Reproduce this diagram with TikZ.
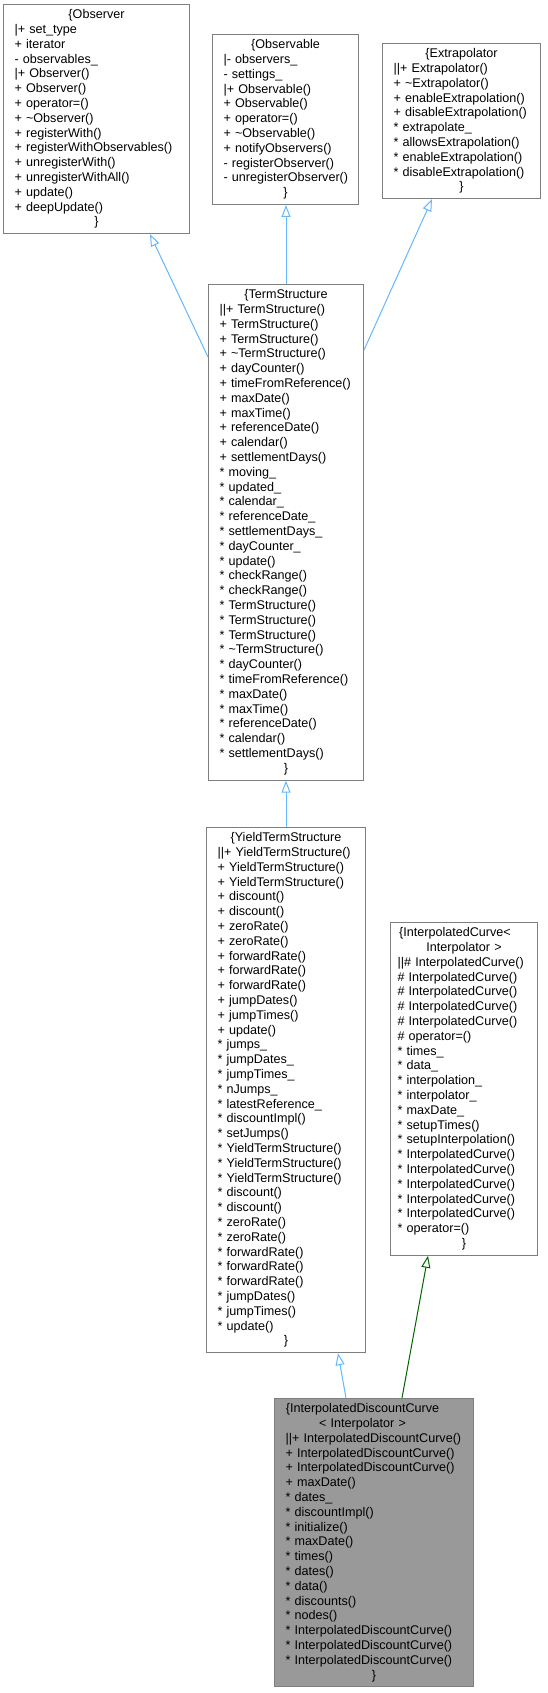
\documentclass[tikz,border=0pt]{standalone}
\usepackage{fontspec}
\setmainfont{Liberation Sans}
\usetikzlibrary{arrows.meta,calc}
\definecolor{boxgray}{HTML}{7F7F7F}
\definecolor{curfill}{HTML}{999999}
\definecolor{inhblue}{HTML}{63B8FF}
\definecolor{inhgreen}{HTML}{006400}
\newcommand{\rowl}[1]{\mbox{#1}\\}
\newcommand{\rowc}[1]{\makebox[\linewidth][c]{#1}\\}
\newcommand{\rowo}[2][23pt]{\makebox[\linewidth][c]{#2\hspace*{#1}}\\}
\newcommand{\rowe}{\makebox[\linewidth][c]{\}}}
\newcommand{\tl}{\textasciitilde}
\tikzset{
  cls/.style={draw=boxgray, line width=1pt, fill=white, rectangle, anchor=north west,
    inner xsep=11pt, inner ysep=0pt, align=left,
    font=\fontsize{12.6}{14.8}\selectfont},
  inh/.style={draw=inhblue, line width=1pt, -{Triangle[open,length=12pt,width=9pt]}},
  inhg/.style={draw=inhgreen, line width=1pt, -{Triangle[open,length=12pt,width=9pt]}}
}
\begin{document}
\begin{tikzpicture}[x=1pt,y=-1pt]
\useasboundingbox[fill=white] (0,0) rectangle (548,1693);

\node[cls, minimum width=186pt, minimum height=229.2pt, text width=164pt] (observer) at (3,4) {%
\rowc{\{Observer}
\rowl{|+ set\_type}
\rowl{+ iterator}
\rowl{- observables\_}
\rowl{|+ Observer()}
\rowl{+ Observer()}
\rowl{+ operator=()}
\rowl{+ \tl Observer()}
\rowl{+ registerWith()}
\rowl{+ registerWithObservables()}
\rowl{+ unregisterWith()}
\rowl{+ unregisterWithAll()}
\rowl{+ update()}
\rowl{+ deepUpdate()}
\rowe};

\node[cls, minimum width=146pt, minimum height=170pt, text width=124pt] (observable) at (212,34) {%
\rowc{\{Observable}
\rowl{|- observers\_}
\rowl{- settings\_}
\rowl{|+ Observable()}
\rowl{+ Observable()}
\rowl{+ operator=()}
\rowl{+ \tl Observable()}
\rowl{+ notifyObservers()}
\rowl{- registerObserver()}
\rowl{- unregisterObserver()}
\rowe};

\node[cls, minimum width=158pt, minimum height=155.2pt, text width=136pt] (extrap) at (382,43) {%
\rowc{\{Extrapolator}
\rowl{||+ Extrapolator()}
\rowl{+ \tl Extrapolator()}
\rowl{+ enableExtrapolation()}
\rowl{+ disableExtrapolation()}
\rowl{* extrapolate\_}
\rowl{* allowsExtrapolation()}
\rowl{* enableExtrapolation()}
\rowl{* disableExtrapolation()}
\rowe};

\node[cls, minimum width=155pt, minimum height=495.6pt, text width=133pt] (termstr) at (208,284) {%
\rowc{\{TermStructure}
\rowl{||+ TermStructure()}
\rowl{+ TermStructure()}
\rowl{+ TermStructure()}
\rowl{+ \tl TermStructure()}
\rowl{+ dayCounter()}
\rowl{+ timeFromReference()}
\rowl{+ maxDate()}
\rowl{+ maxTime()}
\rowl{+ referenceDate()}
\rowl{+ calendar()}
\rowl{+ settlementDays()}
\rowl{* moving\_}
\rowl{* updated\_}
\rowl{* calendar\_}
\rowl{* referenceDate\_}
\rowl{* settlementDays\_}
\rowl{* dayCounter\_}
\rowl{* update()}
\rowl{* checkRange()}
\rowl{* checkRange()}
\rowl{* TermStructure()}
\rowl{* TermStructure()}
\rowl{* TermStructure()}
\rowl{* \tl TermStructure()}
\rowl{* dayCounter()}
\rowl{* timeFromReference()}
\rowl{* maxDate()}
\rowl{* maxTime()}
\rowl{* referenceDate()}
\rowl{* calendar()}
\rowl{* settlementDays()}
\rowe};

\node[cls, minimum width=159pt, minimum height=525.2pt, text width=137pt] (yts) at (206,827) {%
\rowc{\{YieldTermStructure}
\rowl{||+ YieldTermStructure()}
\rowl{+ YieldTermStructure()}
\rowl{+ YieldTermStructure()}
\rowl{+ discount()}
\rowl{+ discount()}
\rowl{+ zeroRate()}
\rowl{+ zeroRate()}
\rowl{+ forwardRate()}
\rowl{+ forwardRate()}
\rowl{+ forwardRate()}
\rowl{+ jumpDates()}
\rowl{+ jumpTimes()}
\rowl{+ update()}
\rowl{* jumps\_}
\rowl{* jumpDates\_}
\rowl{* jumpTimes\_}
\rowl{* nJumps\_}
\rowl{* latestReference\_}
\rowl{* discountImpl()}
\rowl{* setJumps()}
\rowl{* YieldTermStructure()}
\rowl{* YieldTermStructure()}
\rowl{* YieldTermStructure()}
\rowl{* discount()}
\rowl{* discount()}
\rowl{* zeroRate()}
\rowl{* zeroRate()}
\rowl{* forwardRate()}
\rowl{* forwardRate()}
\rowl{* forwardRate()}
\rowl{* jumpDates()}
\rowl{* jumpTimes()}
\rowl{* update()}
\rowe};

\node[cls, inner xsep=7pt, minimum width=147pt, minimum height=332.8pt, text width=133pt] (icurve) at (390,922) {%
\rowo[18pt]{\{InterpolatedCurve<}
\rowc{Interpolator >}
\rowl{||\# InterpolatedCurve()}
\rowl{\# InterpolatedCurve()}
\rowl{\# InterpolatedCurve()}
\rowl{\# InterpolatedCurve()}
\rowl{\# InterpolatedCurve()}
\rowl{\# operator=()}
\rowl{* times\_}
\rowl{* data\_}
\rowl{* interpolation\_}
\rowl{* interpolator\_}
\rowl{* maxDate\_}
\rowl{* setupTimes()}
\rowl{* setupInterpolation()}
\rowl{* InterpolatedCurve()}
\rowl{* InterpolatedCurve()}
\rowl{* InterpolatedCurve()}
\rowl{* InterpolatedCurve()}
\rowl{* InterpolatedCurve()}
\rowl{* operator=()}
\rowe};

\node[cls, fill=curfill, minimum width=199pt, minimum height=288.4pt, text width=177pt] (idc) at (274,1398) {%
\rowo{\{InterpolatedDiscountCurve}
\rowo{< Interpolator >}
\rowl{||+ InterpolatedDiscountCurve()}
\rowl{+ InterpolatedDiscountCurve()}
\rowl{+ InterpolatedDiscountCurve()}
\rowl{+ maxDate()}
\rowl{* dates\_}
\rowl{* discountImpl()}
\rowl{* initialize()}
\rowl{* maxDate()}
\rowl{* times()}
\rowl{* dates()}
\rowl{* data()}
\rowl{* discounts()}
\rowl{* nodes()}
\rowl{* InterpolatedDiscountCurve()}
\rowl{* InterpolatedDiscountCurve()}
\rowl{* InterpolatedDiscountCurve()}
\rowe};

\draw[inh] ($(termstr.north west)+(0,73)$) -- ($(observer.south west)+(147,0)$);
\draw[inh] (termstr.north) -- (termstr.north |- observable.south);
\draw[inh] ($(termstr.north east)+(0,66)$) -- ($(extrap.south west)+(50,0)$);
\draw[inh] (yts.north) -- (termstr.south);
\draw[inh] ($(idc.north west)+(72,0)$) -- ($(yts.south west)+(132,0)$);
\draw[inhg] ($(idc.north west)+(128,0)$) -- ($(icurve.south west)+(38,0)$);
\end{tikzpicture}
\end{document}
